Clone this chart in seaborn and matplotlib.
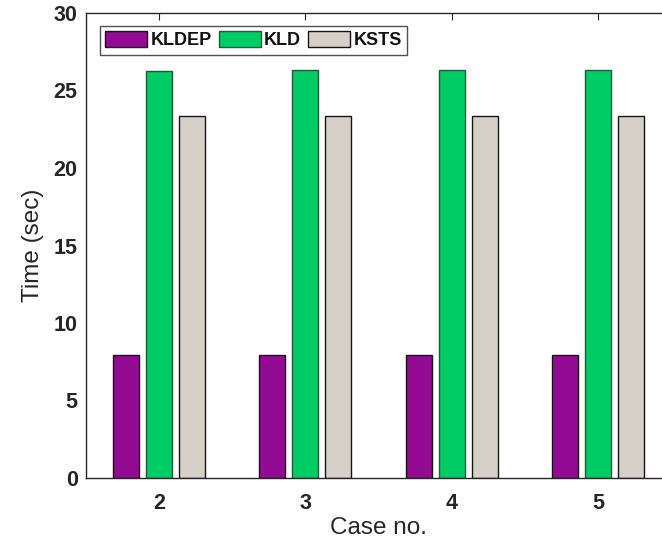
import matplotlib
matplotlib.use("Agg")
import matplotlib.pyplot as plt
import seaborn as sns
import pandas as pd

# Run times per test case for each method
cases = ["2", "3", "4", "5"]
kldep = [7.92, 7.92, 7.92, 7.92]
kld = [26.26, 26.3, 26.3, 26.3]
ksts = [23.34, 23.37, 23.37, 23.37]
methods = ["KLDEP", "KLD", "KSTS"]
colors = ["#930A93", "#00CC66", "#D5D0C8"]
edges = ["#151515", "#1E5A3A", "#151515"]

df = pd.DataFrame({
    "case": cases * 3,
    "time": kldep + kld + ksts,
    "method": [m for m in methods for _ in cases],
})

sns.set_theme(style="white")
plt.rcParams["font.family"] = ["Liberation Sans", "DejaVu Sans"]

fig = plt.figure(figsize=(6.62, 5.40), dpi=100)
ax = fig.add_axes([86 / 662, 62 / 540, 585 / 662, 465 / 540])

sns.barplot(data=df, x="case", y="time", hue="method", order=cases,
            hue_order=methods, palette=colors, saturation=1,
            width=0.678, gap=0.21, linewidth=1.0, ax=ax, legend=True)

for cont, ec in zip(ax.containers, edges):
    for bar in cont:
        bar.set_edgecolor(ec)

ax.set_xlim(-0.5, 3.5)
ax.set_ylim(0, 30)
ax.set_yticks([0, 5, 10, 15, 20, 25, 30])

for s in ax.spines.values():
    s.set_visible(True)
    s.set_color("#262626")
    s.set_linewidth(1.0)

ax.tick_params(axis="both", direction="in", length=5, width=0.8,
               color="#262626", top=True, right=True,
               labelsize=15.5, labelcolor="#262626")
ax.tick_params(axis="x", pad=11)
ax.tick_params(axis="y", pad=6)
for lab in ax.get_xticklabels() + ax.get_yticklabels():
    lab.set_fontweight("bold")

ax.set_xlabel("Case no.", fontsize=17.5, color="#262626", labelpad=2)
ax.set_ylabel("Time (sec)", fontsize=17.5, color="#262626", labelpad=7)

leg = ax.legend(loc="upper left", ncol=3, frameon=True, fancybox=False,
                prop={"size": 13, "weight": "bold"},
                handlelength=2.33, handleheight=0.95, handletextpad=0.17,
                columnspacing=0.4, borderpad=0.3, borderaxespad=0,
                bbox_to_anchor=(14 / 585, 1 - 13 / 465))
leg.get_frame().set_edgecolor("#262626")
leg.get_frame().set_linewidth(1.0)
for t in leg.get_texts():
    t.set_color("#111111")
for h, ec in zip(leg.legend_handles, edges):
    h.set_edgecolor(ec)

fig.savefig("out.png", dpi=100)
